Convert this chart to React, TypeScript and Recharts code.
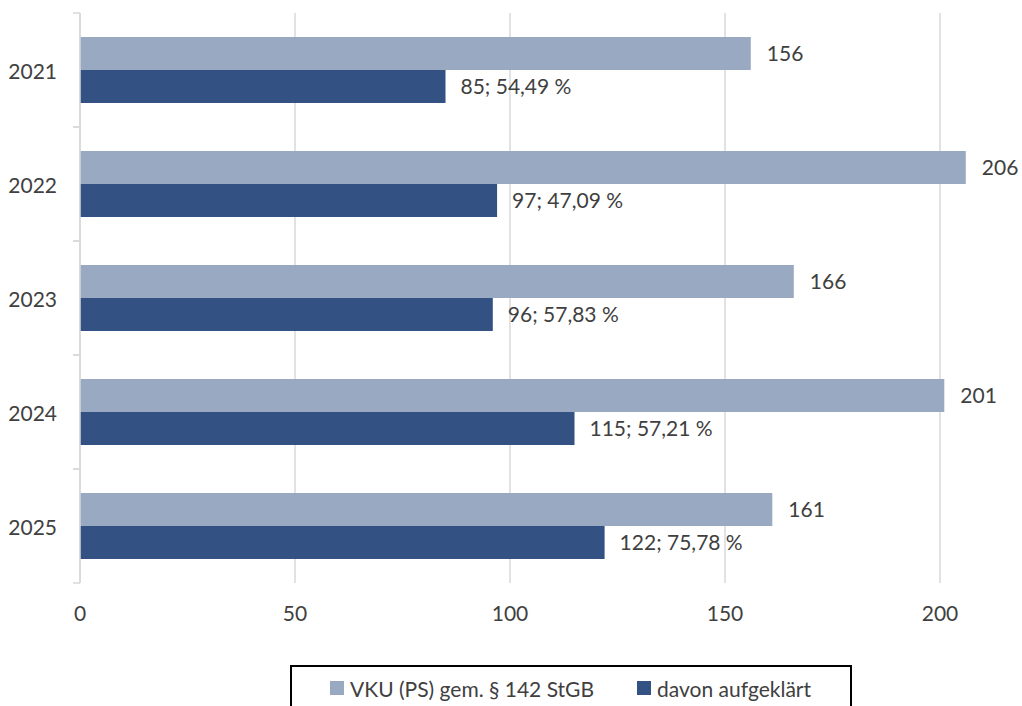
import React from 'react';
import { BarChart, Bar, XAxis, YAxis, CartesianGrid, LabelList } from 'recharts';

const years = ['2021', '2022', '2023', '2024', '2025'];
const reported = [156, 206, 166, 201, 161];
const solved = [85, 97, 96, 115, 122];
const solvedPct = [54.49, 47.09, 57.83, 57.21, 75.78];
const seriesNames = ['VKU (PS) gem. § 142 StGB', 'davon aufgeklärt'];
const xTicks = [0, 50, 100, 150, 200];

const LIGHT = '#98A9C1';
const DARK = '#335182';
const TEXT = '#404040';
const GRID = '#D9D9D9';
const FONT = 'Lato, "Open Sans", sans-serif';

const data = years.map((year, i) => ({
  year,
  reported: reported[i],
  solved: solved[i],
  solvedLabel: `${solved[i]}; ${solvedPct[i].toFixed(2).replace('.', ',')} %`,
}));

// category band height = plot height / number of years
const BAND = 570 / years.length;

const YearTick = (props: any) => {
  const { x, y, payload } = props;
  return (
    <g>
      <text x={x - 23} y={y} textAnchor="end" dominantBaseline="central" fill={TEXT} fontSize={21} fontFamily={FONT}>
        {payload.value}
      </text>
      <line x1={x - 7} x2={x} y1={y - BAND / 2} y2={y - BAND / 2} stroke={GRID} strokeWidth={1.5} />
      <line x1={x - 7} x2={x} y1={y + BAND / 2} y2={y + BAND / 2} stroke={GRID} strokeWidth={1.5} />
    </g>
  );
};

const App = () => {
  return (
    <div style={{ position: 'absolute', left: 0, top: 0, width: 1022, height: 706, overflow: 'hidden', background: '#fff', fontFamily: FONT }}>
      <BarChart
        width={1022}
        height={706}
        data={data}
        layout="vertical"
        margin={{ top: 13, right: 39, bottom: 83, left: 0 }}
        barCategoryGap={24}
        barGap={0}
      >
        <CartesianGrid horizontal={false} verticalValues={xTicks} stroke={GRID} strokeWidth={1.5} />
        <XAxis
          type="number"
          domain={[0, 210]}
          ticks={xTicks}
          axisLine={false}
          tickLine={false}
          tickSize={0}
          tickMargin={23}
          height={40}
          tick={{ fill: TEXT, fontSize: 21, fontFamily: FONT }}
        />
        <YAxis
          type="category"
          dataKey="year"
          width={80}
          axisLine={{ stroke: GRID, strokeWidth: 1.5 }}
          tickLine={false}
          tickSize={0}
          tickMargin={0}
          tick={<YearTick />}
        />
        <Bar dataKey="reported" name={seriesNames[0]} fill={LIGHT} isAnimationActive={false}>
          <LabelList dataKey="reported" position="right" offset={16} fill={TEXT} fontSize={21} fontFamily={FONT} />
        </Bar>
        <Bar dataKey="solved" name={seriesNames[1]} fill={DARK} isAnimationActive={false}>
          <LabelList dataKey="solvedLabel" position="right" offset={15} fill={TEXT} fontSize={21} fontFamily={FONT} />
        </Bar>
      </BarChart>
      <div
        style={{
          position: 'absolute',
          left: 290,
          top: 665,
          width: 558,
          height: 60,
          border: '2px solid #000',
        }}
      >
        {seriesNames.map((name, i) => (
          <div
            key={name}
            style={{
              position: 'absolute',
              left: i === 0 ? 38 : 345,
              top: 6,
              height: 30,
              display: 'flex',
              alignItems: 'center',
              whiteSpace: 'nowrap',
              fontSize: 21,
              color: TEXT,
            }}
          >
            <span style={{ display: 'inline-block', width: 14, height: 14, background: i === 0 ? LIGHT : DARK, marginRight: 6 }} />
            {name}
          </div>
        ))}
      </div>
    </div>
  );
};

export default App;
